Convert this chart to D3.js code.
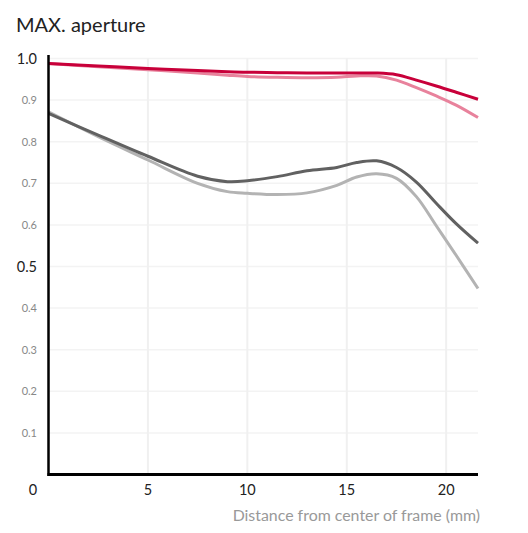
<!DOCTYPE html>
<html>
<head>
<meta charset="utf-8">
<script src="https://cdn.jsdelivr.net/npm/d3@7"></script>
<style>
  body { margin: 0; background: #fff; }
  svg { font-family: Lato, "Open Sans", sans-serif; }
</style>
</head>
<body>
<svg id="chart" width="528" height="533"></svg>
<script>
// distance from center (mm)
var dist = [0, 2.5, 5, 7.5, 9, 10, 11.5, 13, 14.5, 15.5, 16.5, 17.5, 18.5, 19.5, 20.5, 21.6];

var redDark  = [0.988, 0.982, 0.976, 0.971, 0.968, 0.967, 0.966, 0.965, 0.965, 0.965, 0.965, 0.961, 0.948, 0.934, 0.919, 0.902];
var redLight = [0.988, 0.980, 0.973, 0.965, 0.960, 0.957, 0.955, 0.954, 0.955, 0.958, 0.958, 0.948, 0.930, 0.910, 0.888, 0.858];
var grayDark = [0.868, 0.816, 0.765, 0.717, 0.704, 0.706, 0.716, 0.730, 0.738, 0.750, 0.754, 0.738, 0.703, 0.652, 0.603, 0.556];
var grayLight= [0.872, 0.812, 0.756, 0.700, 0.680, 0.676, 0.673, 0.677, 0.695, 0.715, 0.723, 0.712, 0.668, 0.598, 0.527, 0.447];

var xTicks = [0, 5, 10, 15, 20];
var yTicks = [0.1, 0.2, 0.3, 0.4, 0.5, 0.6, 0.7, 0.8, 0.9, 1.0];
var bigTicks = [0.5, 1.0];

var svg = d3.select("#chart");

var x = d3.scaleLinear().domain([0, 21.6]).range([48.5, 478]);
var y = d3.scaleLinear().domain([0, 1]).range([474.5, 58.5]);

// title
svg.append("text")
    .attr("x", 16).attr("y", 32)
    .attr("font-size", 20)
    .attr("fill", "#222")
    .text("MAX. aperture");

// horizontal grid
svg.append("g").selectAll("line")
    .data(yTicks)
    .join("line")
    .attr("x1", x(0)).attr("x2", x(21.6))
    .attr("y1", d => y(d)).attr("y2", d => y(d))
    .attr("stroke", "#f3f3f3")
    .attr("stroke-width", 1.5);

// vertical grid
svg.append("g").selectAll("line")
    .data(xTicks.slice(1))
    .join("line")
    .attr("x1", d => x(d)).attr("x2", d => x(d))
    .attr("y1", y(1)).attr("y2", y(0))
    .attr("stroke", "#f0f0f0")
    .attr("stroke-width", 2);

// y labels
svg.append("g").selectAll("text")
    .data(yTicks)
    .join("text")
    .attr("x", 37)
    .attr("y", d => y(d))
    .attr("dy", "0.35em")
    .attr("text-anchor", "end")
    .attr("font-size", d => bigTicks.includes(d) ? 14.5 : 11)
    .attr("fill", d => bigTicks.includes(d) ? "#222" : "#888")
    .text(d => d.toFixed(1));

// x labels
svg.append("g").selectAll("text")
    .data(xTicks)
    .join("text")
    .attr("x", d => d == 0 ? 33 : x(d))
    .attr("y", 495)
    .attr("text-anchor", "middle")
    .attr("font-size", 14.5)
    .attr("fill", "#222")
    .text(d => d);

svg.append("text")
    .attr("x", 480).attr("y", 521)
    .attr("text-anchor", "end")
    .attr("font-size", 15.9)
    .attr("fill", "#999")
    .text("Distance from center of frame (mm)");

// curves
var line = d3.line()
    .x((d, i) => x(dist[i]))
    .y(d => y(d))
    .curve(d3.curveCatmullRom.alpha(0.5));

var series = [
    {vals: grayLight, color: "#b3b3b3"},
    {vals: grayDark, color: "#616161"},
    {vals: redLight, color: "#e8829c"},
    {vals: redDark, color: "#c8003a"}
];

svg.append("g").selectAll("path")
    .data(series)
    .join("path")
    .attr("d", d => line(d.vals))
    .attr("fill", "none")
    .attr("stroke", d => d.color)
    .attr("stroke-width", 3);

// axes lines
svg.append("line")
    .attr("x1", 48.5).attr("x2", 48.5)
    .attr("y1", 55).attr("y2", 476)
    .attr("stroke", "#000").attr("stroke-width", 2.5);
svg.append("line")
    .attr("x1", 47.5).attr("x2", 478)
    .attr("y1", 474.5).attr("y2", 474.5)
    .attr("stroke", "#000").attr("stroke-width", 3);
</script>
</body>
</html>
